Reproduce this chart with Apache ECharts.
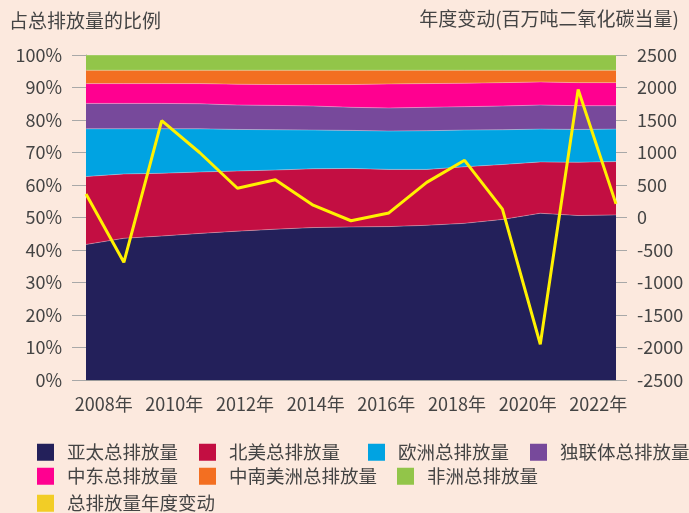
<!DOCTYPE html>
<html>
<head>
<meta charset="utf-8">
<script src="https://cdn.jsdelivr.net/npm/echarts@6/dist/echarts.min.js"></script>
<style>
    html, body { margin: 0; padding: 0; background: #FCE9DE; }
    #main { width: 689px; height: 513px; }
</style>
</head>
<body>
<div id="main"></div>
<script>
// 年份
var years = ['2008年', '2009年', '2010年', '2011年', '2012年', '2013年', '2014年', '2015年',
    '2016年', '2017年', '2018年', '2019年', '2020年', '2021年', '2022年']

// 各地区占总排放量的比例 (%)
var asiaPacific = [41.7, 43.6, 44.3, 45.1, 45.8, 46.4, 46.9, 47.1, 47.2, 47.6, 48.2, 49.4, 51.3, 50.6, 50.8]
var northAmerica = [20.9, 19.8, 19.3, 18.9, 18.5, 18.2, 18.1, 18.0, 17.6, 17.2, 17.4, 16.9, 15.8, 16.4, 16.4]
var europe = [14.7, 13.9, 13.7, 13.3, 12.8, 12.4, 11.9, 11.7, 11.8, 11.9, 11.3, 10.7, 10.1, 10.1, 10.0]
var cis = [7.8, 7.8, 7.8, 7.7, 7.5, 7.5, 7.4, 7.1, 7.1, 7.2, 7.2, 7.3, 7.4, 7.3, 7.2]
var middleEast = [6.1, 6.1, 6.1, 6.2, 6.4, 6.4, 6.6, 7.0, 7.4, 7.3, 7.2, 7.2, 7.1, 7.1, 7.1]
var southCentralAmerica = [4.1, 4.1, 4.1, 4.1, 4.3, 4.4, 4.4, 4.4, 4.2, 4.1, 4.0, 3.8, 3.6, 3.8, 3.8]
var africa = [4.7, 4.7, 4.7, 4.7, 4.7, 4.7, 4.7, 4.7, 4.7, 4.7, 4.7, 4.7, 4.7, 4.7, 4.7]

// 总排放量年度变动 (百万吨二氧化碳当量)
var annualChange = [360, -690, 1490, 1000, 450, 580, 190, -50, 70, 540, 880, 130, -1950, 1970, 210]

var regions = [
    { name: '亚太总排放量', data: asiaPacific, color: '#23205A' },
    { name: '北美总排放量', data: northAmerica, color: '#C30E42' },
    { name: '欧洲总排放量', data: europe, color: '#00A3E2' },
    { name: '独联体总排放量', data: cis, color: '#77499B' },
    { name: '中东总排放量', data: middleEast, color: '#FF0090' },
    { name: '中南美洲总排放量', data: southCentralAmerica, color: '#F36F21' },
    { name: '非洲总排放量', data: africa, color: '#92C549' }
]
var lineName = '总排放量年度变动'

var font = '"Noto Sans CJK SC", "Noto Sans", sans-serif'
var textColor = '#444'

// 图例位置 (逐项摆放)
var legendPos = [
    [37, 443], [199, 443], [368, 443], [530, 443],
    [37, 467], [199, 467], [397, 467],
    [37, 494]
]

var legends = regions.map(function (r, i) {
    return {
        left: legendPos[i][0], top: legendPos[i][1],
        padding: 0,
        itemWidth: 17, itemHeight: 17,
        itemStyle: { borderWidth: 0 },
        textStyle: { fontSize: 18.5, color: textColor, fontFamily: font, padding: [0, 0, 0, 8] },
        data: [{ name: r.name, icon: 'rect' }]
    }
})
legends.push({
    left: legendPos[7][0], top: legendPos[7][1],
    padding: 0,
    itemWidth: 17, itemHeight: 17,
    itemStyle: { borderWidth: 0 },
    textStyle: { fontSize: 18.5, color: textColor, fontFamily: font, padding: [0, 0, 0, 8] },
    data: [{ name: lineName, icon: 'rect', itemStyle: { color: '#F2CD26' } }]
})

var series = regions.map(function (r) {
    return {
        name: r.name,
        type: 'line',
        stack: 'share',
        xAxisIndex: 1,
        yAxisIndex: 0,
        showSymbol: false,
        symbol: 'none',
        itemStyle: { color: r.color },
        lineStyle: { width: 1, color: 'rgba(255,255,255,0.3)' },
        areaStyle: { color: r.color, opacity: 1 },
        emphasis: { disabled: true },
        data: r.data
    }
})
series.push({
    name: lineName,
    type: 'line',
    xAxisIndex: 1,
    yAxisIndex: 1,
    showSymbol: false,
    symbol: 'none',
    itemStyle: { color: '#FFF100' },
    lineStyle: { width: 3, color: '#FFF100' },
    z: 5,
    data: annualChange
})

var chart = echarts.init(document.getElementById('main'))
chart.setOption({
    backgroundColor: '#FCE9DE',
    animation: false,
    title: [
        { text: '占总排放量的比例', left: 9, top: 11, padding: 0,
          textStyle: { fontSize: 19, fontWeight: 'normal', color: textColor, fontFamily: font } },
        { text: '年度变动(百万吨二氧化碳当量)', right: 10, top: 9, padding: 0,
          textStyle: { fontSize: 19, fontWeight: 'normal', color: textColor, fontFamily: font } }
    ],
    legend: legends,
    grid: { left: 86, right: 73, top: 55, bottom: 133, containLabel: false },
    xAxis: [
        {
            type: 'category',
            data: years,
            boundaryGap: true,
            axisTick: { show: false },
            axisLine: { show: true, lineStyle: { color: '#9a9a9a', width: 1 } },
            axisLabel: { interval: 1, margin: 15, fontSize: 18, color: textColor, fontFamily: font }
        },
        {
            type: 'category',
            data: years,
            boundaryGap: false,
            show: false
        }
    ],
    yAxis: [
        {
            type: 'value',
            min: 0, max: 100, interval: 10,
            axisLine: { show: true, lineStyle: { color: '#9a9a9a', width: 1 } },
            axisTick: { show: true, length: 14, lineStyle: { color: '#a8a8a8' } },
            splitLine: { show: false },
            axisLabel: {
                formatter: '{value}%', margin: 24, fontSize: 18, color: textColor,
                fontFamily: font, padding: [0, 0, 9, 0]
            }
        },
        {
            type: 'value',
            min: -2500, max: 2500, interval: 500,
            position: 'right',
            axisLine: { show: false },
            axisTick: { show: true, length: 11, lineStyle: { color: '#a8a8a8' } },
            splitLine: { show: false },
            axisLabel: {
                formatter: function (v) { return String(v) },
                margin: 21, fontSize: 18, color: textColor,
                fontFamily: font, padding: [0, 0, 9, 0]
            }
        }
    ],
    series: series
})
</script>
</body>
</html>
